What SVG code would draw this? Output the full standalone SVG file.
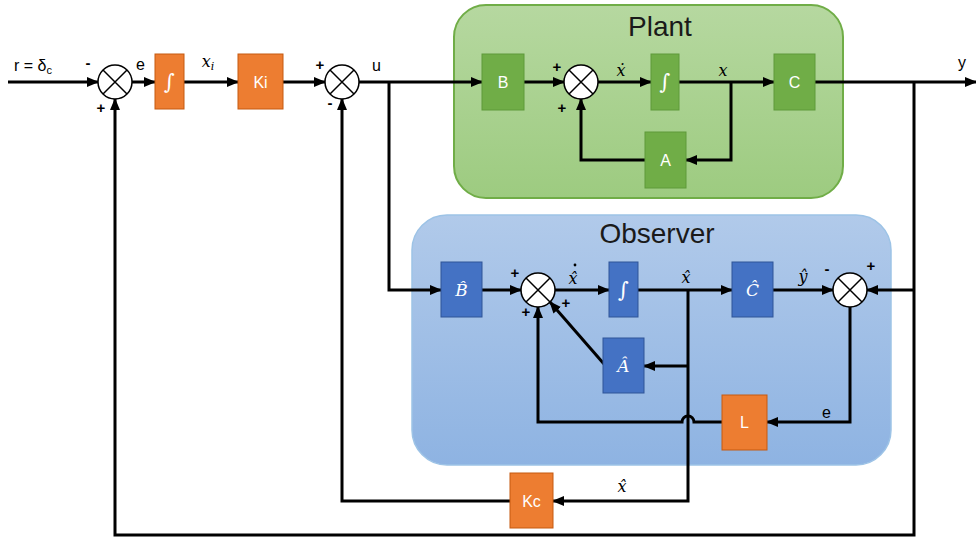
<svg xmlns="http://www.w3.org/2000/svg" width="976" height="537" viewBox="0 0 976 537">
<defs>
<marker id="arr" markerUnits="userSpaceOnUse" markerWidth="12" markerHeight="12" refX="11" refY="6" orient="auto" viewBox="0 0 12 12"><path d="M0,1 L12,6 L0,11 z" fill="#000"/></marker>
<linearGradient id="gPlant" x1="0" y1="0" x2="0" y2="1"><stop offset="0" stop-color="#b6d8a0"/><stop offset="1" stop-color="#9dcb80"/></linearGradient>
<linearGradient id="gObs" x1="0" y1="0" x2="0" y2="1"><stop offset="0" stop-color="#b1caea"/><stop offset="1" stop-color="#8eb3e2"/></linearGradient>
<style>
.w{fill:none;stroke:#000;stroke-width:3;marker-end:url(#arr)}
.sum circle{fill:#fff;stroke:#000;stroke-width:1.5}
.sum path{fill:none;stroke:#000;stroke-width:1.5}
.or{fill:#ed7d31;stroke:#c55a11;stroke-width:1}
.gr{fill:#70ad47;stroke:#5e9a3a;stroke-width:1}
.bl{fill:#4472c4;stroke:#2f5597;stroke-width:1}
.bt{font-family:"Liberation Sans",Arial,sans-serif;font-size:16px;fill:#fff;text-anchor:middle}
.bm{font-family:"DejaVu Serif",serif;font-style:italic;font-size:17px;fill:#fff;text-anchor:middle}
.int{font-family:"DejaVu Serif",serif;font-style:italic;font-size:21px;fill:#fff;text-anchor:middle}
.mt{font-family:"DejaVu Serif",serif;font-style:italic;font-size:16px;fill:#000;text-anchor:middle}
.lb{font-family:"Liberation Sans",Arial,sans-serif;font-size:16px;fill:#000}
.sg{font-family:"Liberation Sans",Arial,sans-serif;font-size:15px;font-weight:bold;fill:#000;text-anchor:middle}
.tt{font-family:"Liberation Sans",Arial,sans-serif;font-size:28px;fill:#1a1a1a;text-anchor:middle}
</style>
</defs>
<rect width="976" height="537" fill="#fff"/>

<g id="plant">
<rect x="454" y="5" width="389" height="193" rx="32" fill="url(#gPlant)" stroke="#70ad47" stroke-width="2"/>
<text class="tt" x="660" y="36">Plant</text>
</g>
<g id="observer">
<rect x="412" y="215" width="479" height="250" rx="35" fill="url(#gObs)" stroke="#9dc3e6" stroke-width="1.5"/>
<text class="tt" x="657" y="243">Observer</text>
</g>

<g id="connectors">
<path class="w" d="M8,82 H98"/>
<path class="w" d="M132,82 H155"/>
<path class="w" d="M184,82 H238"/>
<path class="w" d="M283,82 H325"/>
<path class="w" d="M359,82 H482"/>
<path class="w" d="M389,82 V290 H441"/>
<path class="w" d="M524,82 H564"/>
<path class="w" d="M598,82 H651"/>
<path class="w" d="M679,82 H774"/>
<path class="w" d="M731,82 V160 H686"/>
<path class="w" d="M645,160 H581 V99"/>
<path class="w" d="M815,82 H976"/>
<path class="w" d="M914,82 V535 H115 V99"/>
<path class="w" d="M914,290 H867"/>
<path class="w" d="M482,290 H521"/>
<path class="w" d="M555,290 H609"/>
<path class="w" d="M638,290 H732"/>
<path class="w" d="M688,290 V501 H553"/>
<path class="w" d="M688,366 H644"/>
<path class="w" d="M604,364 L550,302"/>
<path class="w" d="M773,290 H833"/>
<path class="w" d="M850,307 V422 H767"/>
<path class="w" d="M722,422 H694 A6,6 0 0 0 682,422 H538 V307"/>
<path class="w" d="M510,501 H342 V99"/>
</g>

<g id="sum1" class="sum"><circle cx="115" cy="82" r="17"/><path d="M103,70 L127,94 M127,70 L103,94"/></g>
<g id="integ1"><rect class="or" x="155" y="54" width="29" height="55"/><text class="int" x="169.5" y="89">∫</text></g>
<g id="ki"><rect class="or" x="238" y="54" width="45" height="55"/><text class="bt" x="260.5" y="88">Ki</text></g>
<g id="sum2" class="sum"><circle cx="342" cy="82" r="17"/><path d="M330,70 L354,94 M354,70 L330,94"/></g>

<g id="B"><rect class="gr" x="482" y="54" width="42" height="56"/><text class="bt" x="503" y="88">B</text></g>
<g id="sumP" class="sum"><circle cx="581" cy="82" r="17"/><path d="M569,70 L593,94 M593,70 L569,94"/></g>
<g id="integP"><rect class="gr" x="651" y="54" width="28" height="56"/><text class="int" x="665" y="89">∫</text></g>
<g id="A"><rect class="gr" x="645" y="132" width="41" height="56"/><text class="bt" x="665.5" y="166">A</text></g>
<g id="C"><rect class="gr" x="774" y="54" width="41" height="56"/><text class="bt" x="794.5" y="88">C</text></g>

<g id="Bhat"><rect class="bl" x="441" y="262" width="41" height="55"/><text class="bm" x="461.5" y="296">B̂</text></g>
<g id="sumO" class="sum"><circle cx="538" cy="290" r="17"/><path d="M526,278 L550,302 M550,278 L526,302"/></g>
<g id="integO"><rect class="bl" x="609" y="262" width="29" height="55"/><text class="int" x="623.5" y="297">∫</text></g>
<g id="Ahat"><rect class="bl" x="603" y="338" width="41" height="55"/><text class="bm" x="623.5" y="372">Â</text></g>
<g id="Chat"><rect class="bl" x="732" y="262" width="41" height="55"/><text class="bm" x="752.5" y="296">Ĉ</text></g>
<g id="sumE" class="sum"><circle cx="850" cy="290" r="17"/><path d="M838,278 L862,302 M862,278 L838,302"/></g>
<g id="L"><rect class="or" x="722" y="395" width="45" height="55"/><text class="bt" x="744.5" y="428">L</text></g>
<g id="Kc"><rect class="or" x="510" y="473" width="43" height="55"/><text class="bt" x="531.5" y="507">Kc</text></g>

<g id="labels">
<text class="lb" x="14" y="71">r = δ<tspan font-size="11" dy="3">c</tspan></text>
<text class="sg" x="88" y="68">-</text>
<text class="sg" x="101" y="113">+</text>
<text class="lb" x="136" y="70">e</text>
<text class="mt" x="208" y="67">x<tspan font-size="11" dy="3">i</tspan></text>
<text class="sg" x="320" y="70">+</text>
<text class="sg" x="330" y="108">-</text>
<text class="lb" x="372" y="71">u</text>
<text class="sg" x="557" y="72">+</text>
<text class="sg" x="562" y="113">+</text>
<text class="mt" x="621" y="76">ẋ</text>
<text class="mt" x="723" y="76">x</text>
<text class="lb" x="958" y="68">y</text>
<text class="sg" x="515" y="278">+</text>
<text class="sg" x="526" y="317">+</text>
<text class="sg" x="566" y="308">+</text>
<text class="mt" x="573" y="284">x̂</text>
<circle cx="575" cy="265" r="1.4" fill="#000"/>
<text class="mt" x="686" y="283">x̂</text>
<text class="mt" x="803" y="282">ŷ</text>
<text class="sg" x="827" y="274">-</text>
<text class="sg" x="871" y="271">+</text>
<text class="lb" x="822" y="418">e</text>
<text class="mt" x="622" y="492">x̂</text>
</g>
</svg>
